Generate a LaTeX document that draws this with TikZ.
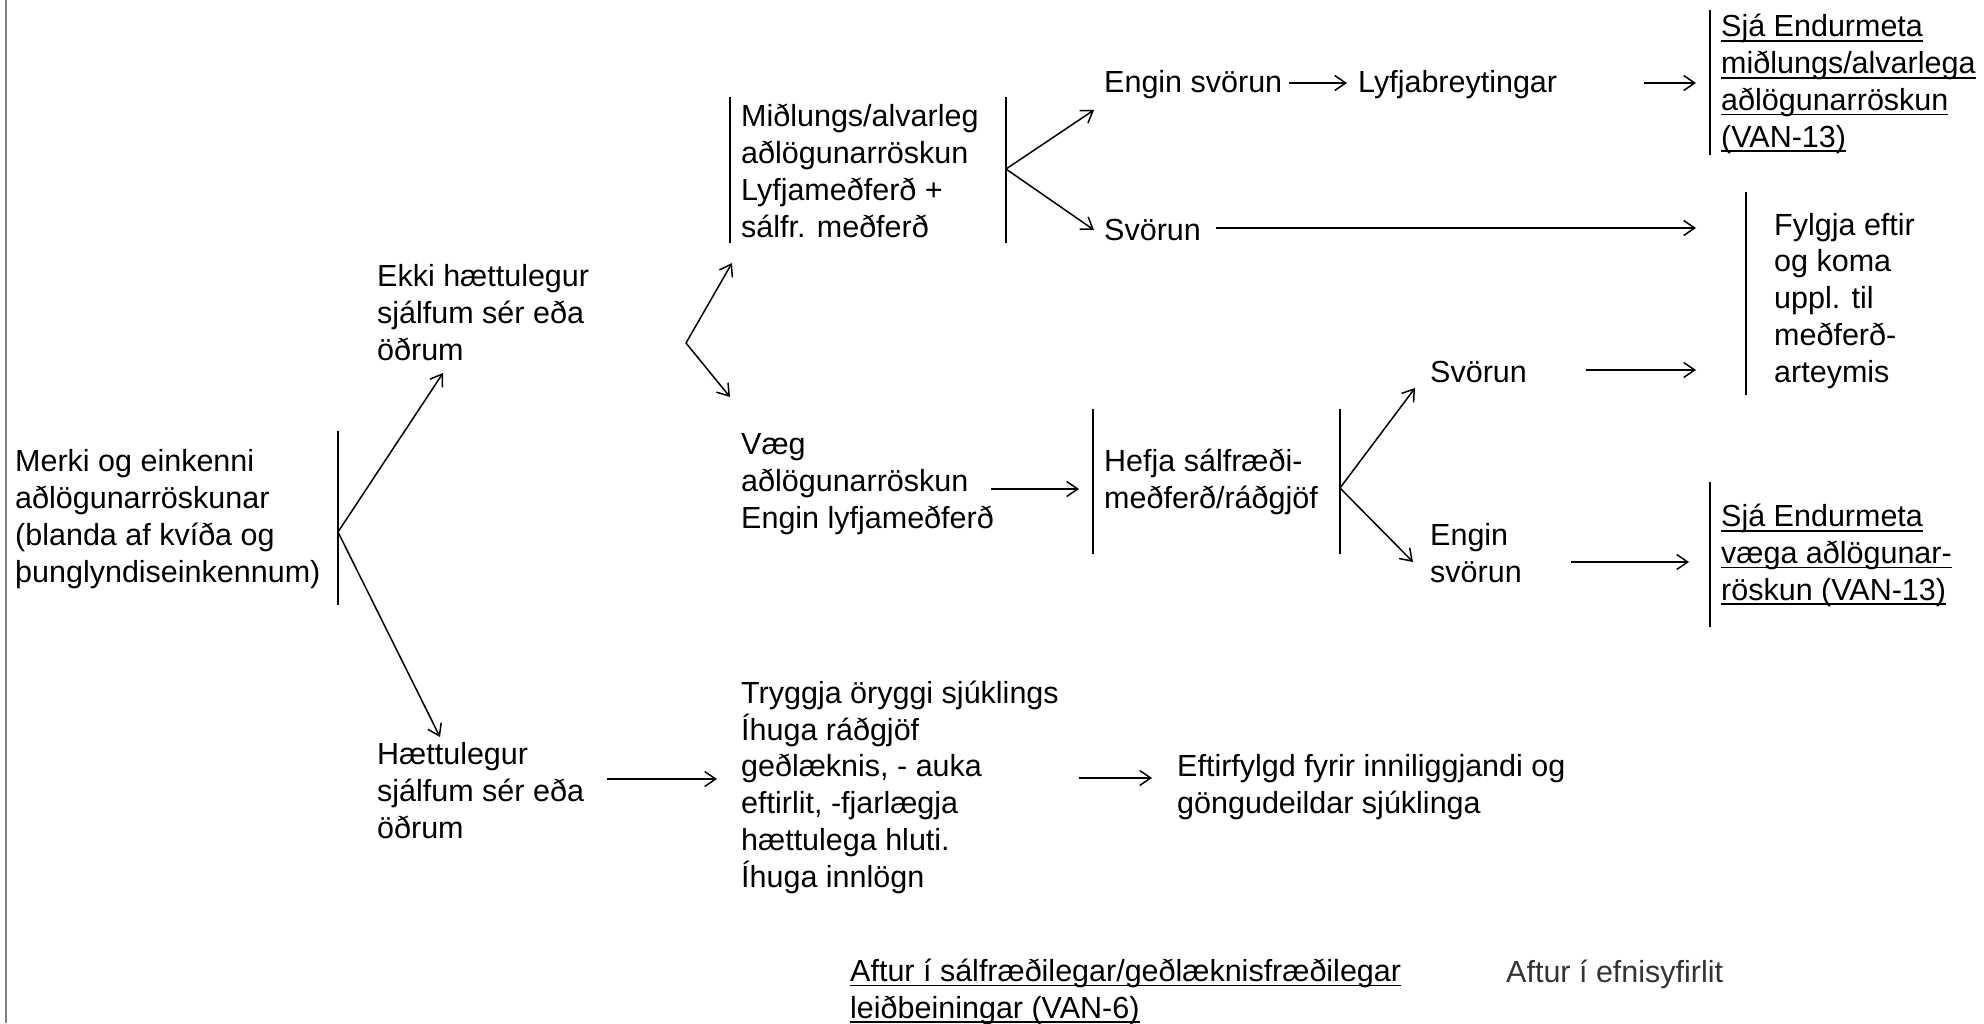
\documentclass[tikz,border=0pt]{standalone}
\usepackage{fontspec}
\setmainfont{Liberation Sans}
\usetikzlibrary{arrows.meta}
% underline drawn just below the baseline, through descenders
\newsavebox{\undlbox}
\newcommand{\undl}[1]{\sbox{\undlbox}{#1}\rlap{\rule[-5pt]{\wd\undlbox}{1.6pt}}\usebox{\undlbox}}
\begin{document}
\begin{tikzpicture}[x=1pt,y=-1pt,
  % blocks are placed by the baseline of their last line
  txt/.style={anchor=base west, inner sep=0pt, align=left,
              font=\fontsize{30.5}{36.7}\selectfont},
  bar/.style={line width=1.5pt},
  arr/.style={line width=1.5pt,
              -{Straight Barb[length=11pt,width=15pt,line width=1.5pt]}},
  frame/.style={line width=1.8pt, black!50},
]
\useasboundingbox (0,0) rectangle (1984,1023);

% page edge on the left
\coordinate (edgeT) at (6,0);
\coordinate (edgeB) at (6,1023);
\draw[frame] (edgeT) -- (edgeB);

% ---- text blocks ----
\node[txt] (merki) at (15,582) {Merki og einkenni\\aðlögunarröskunar\\(blanda af kvíða og\\þunglyndiseinkennum)};
\node[txt] (ekki) at (377,360) {Ekki hættulegur\\sjálfum sér eða\\öðrum};
\node[txt] (haett) at (377,838) {Hættulegur\\sjálfum sér eða\\öðrum};
\node[txt] (midl) at (741,237) {Miðlungs/alvarleg\\aðlögunarröskun\\Lyfjameðferð +\\sálfr. meðferð};
\node[txt] (vaeg) at (741,528) {Væg\\aðlögunarröskun\\Engin lyfjameðferð};
\node[txt] (tryggja) at (741,887) {Tryggja öryggi sjúklings\\Íhuga ráðgjöf\\geðlæknis, - auka\\eftirlit, -fjarlægja\\hættulega hluti.\\Íhuga innlögn};
\node[txt] (engin1) at (1104,92) {Engin svörun};
\node[txt] (lyfja) at (1358,92) {Lyfjabreytingar};
\node[txt] (svorun1) at (1104,240) {Svörun};
\node[txt] (hefja) at (1104,508) {Hefja sálfræði-\\meðferð/ráðgjöf};
\node[txt] (svorun2) at (1430,382) {Svörun};
\node[txt] (engin2) at (1430,582) {Engin\\svörun};
\node[txt] (sja1) at (1721,147) {\undl{Sjá Endurmeta}\\\undl{miðlungs/alvarlega}\\\undl{aðlögunarröskun}\\\undl{(VAN-13)}};
\node[txt] (fylgja) at (1774,382) {Fylgja eftir\\og koma\\uppl. til\\meðferð-\\arteymis};
\node[txt] (sja2) at (1721,600) {\undl{Sjá Endurmeta}\\\undl{væga aðlögunar-}\\\undl{röskun (VAN-13)}};
\node[txt] (eftir) at (1177,813) {Eftirfylgd fyrir inniliggjandi og\\göngudeildar sjúklinga};
\node[txt] (aftur1) at (850,1018) {\undl{Aftur í sálfræðilegar/geðlæknisfræðilegar}\\\undl{leiðbeiningar (VAN-6)}};
\node[txt, text=black!80] (aftur2) at (1506,982) {Aftur í efnisyfirlit};

% ---- vertical bars beside the blocks ----
\coordinate (mT) at (338,431);  \coordinate (mB) at (338,605);
\coordinate (aT) at (730,97);   \coordinate (aB) at (730,243);
\coordinate (bT) at (1006,97);  \coordinate (bB) at (1006,243);
\coordinate (cT) at (1093,409); \coordinate (cB) at (1093,554);
\coordinate (dT) at (1340,409); \coordinate (dB) at (1340,554);
\coordinate (eT) at (1710,10);  \coordinate (eB) at (1710,155);
\coordinate (fT) at (1746,192); \coordinate (fB) at (1746,395);
\coordinate (gT) at (1710,482); \coordinate (gB) at (1710,627);
\foreach \p in {m,a,b,c,d,e,f,g} \draw[bar] (\p T) -- (\p B);

% ---- branching points ----
\coordinate (v1) at (338,532);
\coordinate (v2) at (686,343);
\coordinate (v3) at (1006,169);
\coordinate (v4) at (1340,488);

% ---- arrow ends ----
\coordinate (toEkki) at (443,373);
\coordinate (toHaett) at (440,737);
\coordinate (toMidl) at (732,263);
\coordinate (toVaeg) at (730,397);
\coordinate (toEngin1) at (1094,110);
\coordinate (toSvorun1) at (1094,230);
\coordinate (toSvorun2) at (1415,388);
\coordinate (toEngin2) at (1413,562);

\draw[arr] (v1) -- (toEkki);
\draw[arr] (v1) -- (toHaett);
\draw[arr] (v2) -- (toMidl);
\draw[arr] (v2) -- (toVaeg);
\draw[arr] (v3) -- (toEngin1);
\draw[arr] (v3) -- (toSvorun1);
\draw[arr] (v4) -- (toSvorun2);
\draw[arr] (v4) -- (toEngin2);

% ---- horizontal arrows ----
\coordinate (e1s) at (1289,83);  \coordinate (e1e) at (1347,83);
\coordinate (l1s) at (1644,83);  \coordinate (l1e) at (1696,83);
\coordinate (s1s) at (1216,228); \coordinate (s1e) at (1696,228);
\coordinate (w1s) at (991,489);  \coordinate (w1e) at (1079,489);
\coordinate (s2s) at (1586,370); \coordinate (s2e) at (1696,370);
\coordinate (n2s) at (1571,562); \coordinate (n2e) at (1689,562);
\coordinate (h1s) at (607,779);  \coordinate (h1e) at (717,779);
\coordinate (t1s) at (1079,778); \coordinate (t1e) at (1152,778);

\draw[arr] (e1s) -- (e1e);
\draw[arr] (l1s) -- (l1e);
\draw[arr] (s1s) -- (s1e);
\draw[arr] (w1s) -- (w1e);
\draw[arr] (s2s) -- (s2e);
\draw[arr] (n2s) -- (n2e);
\draw[arr] (h1s) -- (h1e);
\draw[arr] (t1s) -- (t1e);
\end{tikzpicture}
\end{document}
